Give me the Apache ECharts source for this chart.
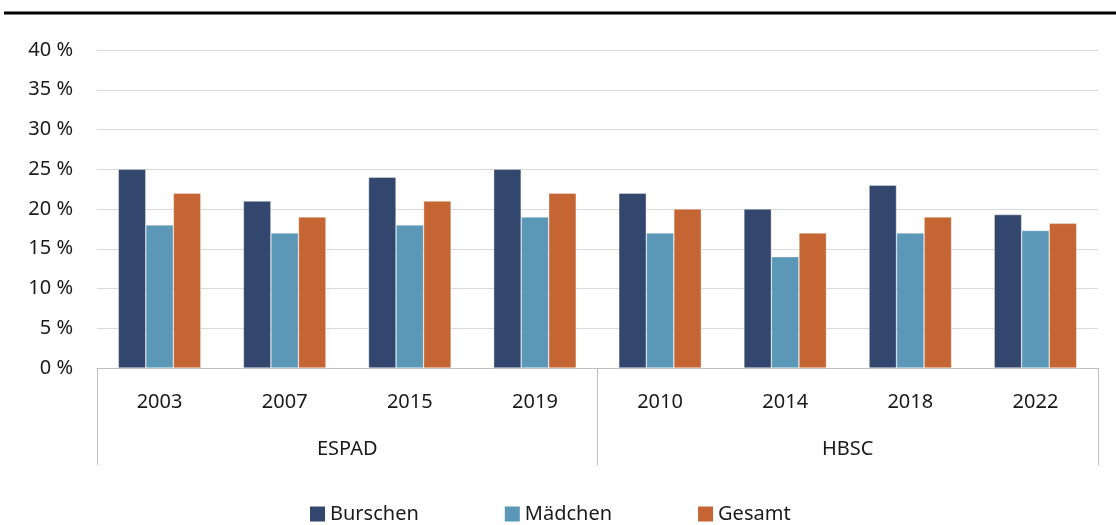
<!DOCTYPE html>
<html>
<head>
<meta charset="utf-8">
<script src="https://cdn.jsdelivr.net/npm/echarts@6/dist/echarts.min.js"></script>
<style>
  html, body { margin: 0; padding: 0; background: #fff; }
  #chart { width: 1116px; height: 525px; }
</style>
</head>
<body>
<div id="chart"></div>
<script>
const years = ["2003", "2007", "2015", "2019", "2010", "2014", "2018", "2022"];
const groups = ["ESPAD", "HBSC"];
const burschen = [25, 21, 24, 25, 22, 20, 23, 19.3];
const maedchen = [18, 17, 18, 19, 17, 14, 17, 17.3];
const gesamt = [22, 19, 21, 22, 20, 17, 19, 18.2];

const font = "'Noto Sans', 'Open Sans', sans-serif";
const textColor = "#1a1a1a";

const chart = echarts.init(document.getElementById("chart"));

const barStyle = (color) => ({
  color: color,
  borderColor: "rgba(255,255,255,0.6)",
  borderWidth: 0.6,
});

chart.setOption({
  animation: false,
  textStyle: { fontFamily: font },
  graphic: [
    {
      type: "line",
      shape: { x1: 4, y1: 13, x2: 1116, y2: 13 },
      style: { stroke: "#000", lineWidth: 3 },
    },
  ],
  grid: { left: 97, right: 18, top: 50, bottom: 157, containLabel: false },
  legend: {
    bottom: -4,
    left: 305,
    icon: "rect",
    itemWidth: 15,
    itemHeight: 15,
    itemGap: 86,
    itemStyle: { borderWidth: 0 },
    textStyle: { fontSize: 20, color: textColor, fontFamily: font },
    data: ["Burschen", "Mädchen", "Gesamt"],
  },
  xAxis: [
    {
      type: "category",
      data: years,
      position: "bottom",
      axisLine: { show: true, lineStyle: { color: "#bfbfbf", width: 1 } },
      axisTick: { show: false },
      axisLabel: { margin: 24, fontSize: 20, color: textColor, fontFamily: font },
    },
    {
      type: "category",
      data: groups,
      position: "bottom",
      axisLine: { show: false },
      axisTick: { show: true, length: 97, lineStyle: { color: "#bfbfbf", width: 1 } },
      axisLabel: { margin: 71, fontSize: 20, color: textColor, fontFamily: font },
    },
  ],
  yAxis: {
    type: "value",
    min: 0,
    max: 40,
    interval: 5,
    axisLine: { show: false },
    axisTick: { show: false },
    splitLine: { lineStyle: { color: "#d9d9d9", width: 1 } },
    axisLabel: {
      formatter: "{value} %",
      fontSize: 20,
      color: textColor,
      fontFamily: font,
      margin: 24,
    },
  },
  series: [
    {
      name: "Burschen",
      type: "bar",
      data: burschen,
      itemStyle: barStyle("#33476E"),
      barGap: "0%",
      barCategoryGap: "34%",
    },
    {
      name: "Mädchen",
      type: "bar",
      data: maedchen,
      itemStyle: barStyle("#5B97B6"),
    },
    {
      name: "Gesamt",
      type: "bar",
      data: gesamt,
      itemStyle: barStyle("#C46533"),
    },
  ],
});
</script>
</body>
</html>
